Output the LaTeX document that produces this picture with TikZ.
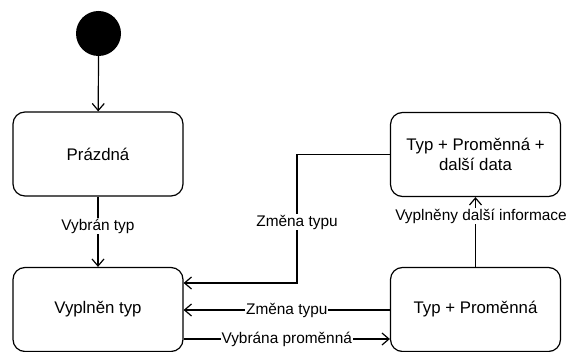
\documentclass[tikz,border=0pt]{standalone}
\usepackage{fontspec}
\setmainfont{Liberation Sans}
\usetikzlibrary{arrows.meta}

\begin{document}
\begin{tikzpicture}[x=1pt, y=-1pt, line width=1.2pt,
    stav/.style={draw, rounded corners=12pt, minimum width=170pt, minimum height=84pt,
        align=center, font=\fontsize{16.8}{20}\selectfont},
    popis/.style={fill=white, inner sep=1pt, font=\fontsize{15.4}{18}\selectfont},
    prechod/.style={-{Straight Barb[length=7pt, width=12pt, line width=1.2pt]}}]
    % Okraje obrazku
    \useasboundingbox (0,0) rectangle (569,352);

    % Pocatecni stav
    \fill (98.5,33.5) circle (22.5pt);
    \coordinate (start) at (98.5,56);

    % Stavy
    \node[stav] (prazdna) at (98,154) {Prázdná};
    \node[stav] (typ) at (98,309.5) {Vyplněn typ};
    \node[stav] (typprom) at (475.5,309.5) {Typ + Proměnná};
    \node[stav] (data) at (475.5,154.5) {Typ + Proměnná +\\ další data};

    % Prechody
    \draw[prechod] (start) -- (prazdna);
    \draw[prechod] (prazdna) -- (typ) node[popis, pos=0.42] {Vybrán typ};
    \draw[prechod] (data.west) -| (297,283) -- (typ.east |- 0,283)
        node[popis] at (297,222) {Změna typu};
    \draw[prechod] (typprom.west |- 0,310) -- (typ.east |- 0,310)
        node[popis, midway] {Změna typu};
    \draw[prechod] (typ.east |- 0,339) -- (typprom.west |- 0,339)
        node[popis, midway] {Vybrána proměnná};
    \draw[prechod] (typprom) -- (data)
        node[popis, pos=0.73, xshift=5.5pt] {Vyplněny další informace};
\end{tikzpicture}
\end{document}
